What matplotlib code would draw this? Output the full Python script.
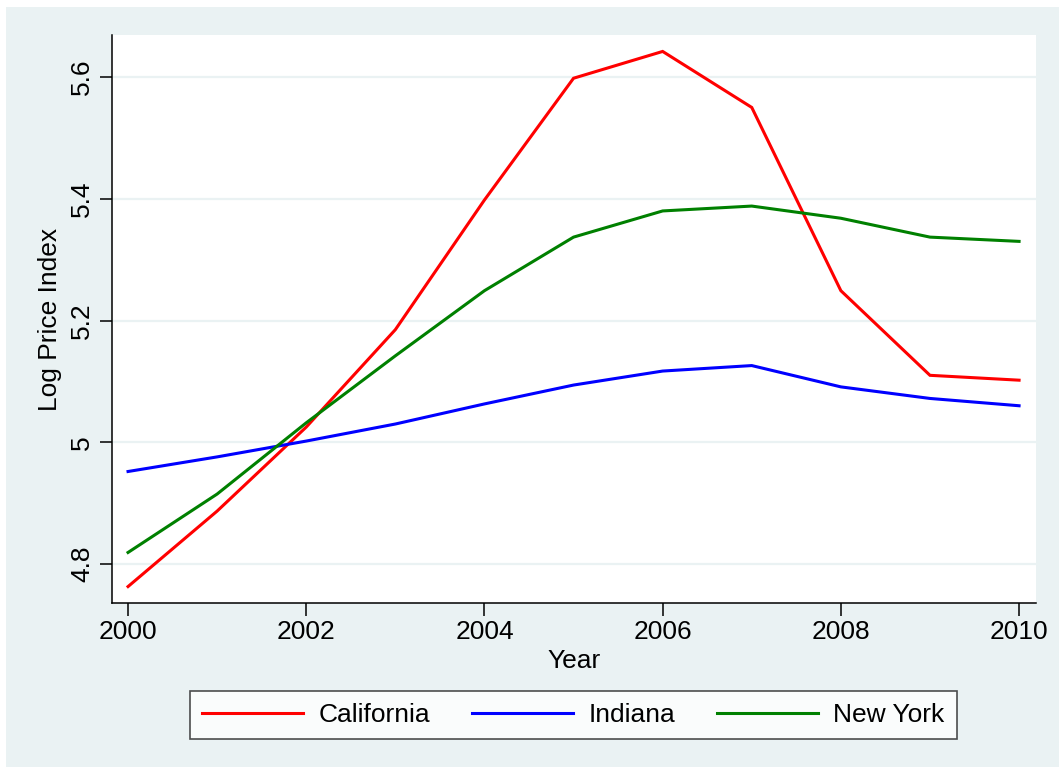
"""Log price index by state, 2000-2010 (Stata s2color look)."""

import matplotlib
matplotlib.use("Agg")
import matplotlib.pyplot as plt
from matplotlib.patches import Rectangle

plt.rcParams["font.family"] = ["Liberation Sans", "DejaVu Sans"]

years = [2000, 2001, 2002, 2003, 2004, 2005, 2006, 2007, 2008, 2009, 2010]
california = [4.763, 4.887, 5.025, 5.185, 5.398, 5.598, 5.642, 5.550, 5.249, 5.110, 5.102]
indiana = [4.952, 4.976, 5.002, 5.030, 5.063, 5.094, 5.117, 5.126, 5.091, 5.072, 5.060]
new_york = [4.819, 4.915, 5.032, 5.142, 5.249, 5.337, 5.380, 5.388, 5.368, 5.337, 5.330]

series = [("California", california, "#ff0000"),
          ("Indiana", indiana, "#0000ff"),
          ("New York", new_york, "#008000")]

x_ticks = [2000, 2002, 2004, 2006, 2008, 2010]
y_ticks = [4.8, 5.0, 5.2, 5.4, 5.6]
y_labels = ["4.8", "5", "5.2", "5.4", "5.6"]

BG = "#eaf2f3"
FS = 19

W, H = 1059, 773
fig = plt.figure(figsize=(W / 100, H / 100), dpi=100, facecolor="white")
fig.patches.append(Rectangle((6 / W, 6 / H), 1 - 6 / W, 1 - 13 / H,
                             transform=fig.transFigure, facecolor=BG,
                             edgecolor="none", zorder=-10))

ax = fig.add_axes([112 / W, 1 - 603 / H, (1036 - 112) / W, (603 - 35) / H])
ax.set_facecolor("white")

for name, vals, color in series:
    ax.plot(years, vals, color=color, linewidth=2.2, label=name,
            solid_joinstyle="miter")

ax.set_xlim(1999.82, 2010.19)
ax.set_ylim(4.736, 5.669)
ax.set_xticks(x_ticks)
ax.set_yticks(y_ticks)
ax.set_yticklabels(y_labels, rotation=90, va="center")
ax.tick_params(axis="both", labelsize=FS, length=9, width=1.1, color="black")
ax.tick_params(axis="y", pad=4)
ax.grid(True, axis="y", color=BG, linewidth=1.6)
ax.set_axisbelow(True)

for side in ["top", "right"]:
    ax.spines[side].set_visible(False)
for side in ["left", "bottom"]:
    ax.spines[side].set_linewidth(1.1)

ax.set_xlabel("Year", fontsize=FS, labelpad=3)
ax.set_ylabel("Log Price Index", fontsize=FS, labelpad=6)

leg = fig.legend(loc="center", ncol=3,
                 bbox_to_anchor=((189 + 958) / 2 / W, 1 - 715 / H),
                 fontsize=FS, handlelength=3.8, handletextpad=0.6,
                 columnspacing=1.6, borderpad=0.45,
                 frameon=True, fancybox=False)
leg.get_frame().set_edgecolor("#222222")
leg.get_frame().set_linewidth(1.2)
for line in leg.get_lines():
    line.set_linewidth(2.2)

plt.savefig("out.png", dpi=100, facecolor=fig.get_facecolor())
plt.close()
